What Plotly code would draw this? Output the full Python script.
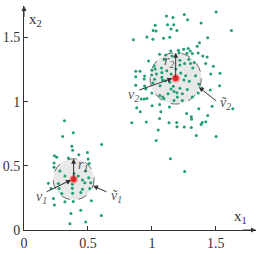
import plotly.graph_objects as go

# cluster 1 points
c1_x = [0.316,0.385,0.302,0.374,0.380,0.238,0.256,0.429,0.496,0.607,0.347,0.235,0.502,0.509,
        0.235,0.281,0.481,0.320,0.424,0.506,0.457,0.191,0.269,0.378,0.475,0.522,0.212,0.274,
        0.378,0.457,0.514,0.295,0.380,0.444,0.230,0.320,0.385,0.527,0.238,0.444,0.367,0.605,
        0.359,0.483,0.391,0.347]
c1_y = [0.852,0.759,0.728,0.652,0.621,0.579,0.567,0.587,0.605,0.667,0.562,0.523,0.554,0.518,
        0.490,0.459,0.459,0.421,0.421,0.408,0.390,0.364,0.362,0.356,0.369,0.369,0.323,0.323,
        0.325,0.318,0.323,0.285,0.287,0.292,0.246,0.221,0.223,0.228,0.195,0.154,0.128,0.113,
        0.048,0.062,0.441,0.375]

# cluster 2 points
c2_x = [1.114,1.165,1.253,1.279,1.502,1.385,1.026,1.122,1.171,1.196,1.622,1.010,1.033,1.150,
        0.855,0.961,1.008,1.091,1.140,1.436,1.372,1.354,
        1.207,1.248,1.284,1.300,1.274,1.316,1.362,1.398,1.432,1.060,1.109,1.157,1.147,1.095,
        0.974,1.219,1.289,1.256,1.302,1.331,1.421,1.481,1.219,1.018,1.075,1.000,0.874,0.907,
        1.078,1.320,1.116,1.186,1.026,1.212,0.940,
        0.874,0.943,0.998,1.021,1.150,1.036,1.078,1.225,1.264,1.341,1.460,1.533,1.083,1.106,
        1.140,1.250,1.292,1.008,0.874,0.943,1.064,1.367,1.393,1.529,1.168,1.150,1.219,1.277,
        1.457,0.953,
        1.173,1.126,1.238,1.000,1.362,1.196,1.199,1.062,1.085,1.316,0.917,0.940,0.961,1.095,
        1.173,1.238,1.002,1.060,1.137,1.367,1.471,1.633,0.881,0.909,1.070,1.271,1.436,1.308,
        1.310,1.060,0.843,0.956,1.134,1.194,1.393,1.385,1.421,1.196,1.253,1.308,1.049,1.347,
        1.502,1.033,1.145,1.256]
c2_y = [1.669,1.656,1.679,1.638,1.700,1.613,1.595,1.600,1.600,1.556,1.556,1.556,1.552,1.567,
        1.482,1.505,1.487,1.495,1.502,1.498,1.459,1.433,
        1.402,1.408,1.415,1.395,1.377,1.375,1.379,1.356,1.348,1.369,1.364,1.356,1.395,1.331,
        1.318,1.323,1.331,1.298,1.298,1.305,1.298,1.277,1.287,1.279,1.262,1.246,1.238,1.238,
        1.228,1.262,1.241,1.254,1.254,1.382,1.177,
        1.195,1.200,1.208,1.175,1.215,1.215,1.190,1.223,1.202,1.202,1.215,1.221,1.169,1.164,
        1.152,1.169,1.159,1.146,1.128,1.123,1.125,1.138,1.105,1.125,1.121,1.100,1.105,1.095,
        1.092,1.100,
        1.079,1.062,1.062,1.067,1.067,1.069,1.036,1.048,1.036,1.036,1.021,1.021,1.025,1.023,
        1.010,1.010,0.969,0.979,0.959,0.946,0.964,0.946,0.952,0.921,0.921,0.908,0.892,0.882,
        0.864,0.869,0.836,0.841,0.836,0.838,0.838,0.823,0.844,0.805,0.802,0.798,0.779,0.736,
        0.728,0.698,0.556,0.456]

centers_x = [0.388, 1.186]
centers_y = [0.395, 1.182]
radii = [0.16, 0.20]

tick_vals = [0, 0.5, 1, 1.5]
tick_text = ["0", "0.5", "1", "1.5"]

green = "#1f9e6e"

fig = go.Figure()
for cx, cy, r in zip(centers_x, centers_y, radii):
    fig.add_shape(type="circle", xref="x", yref="y", x0=cx - r, x1=cx + r, y0=cy - r, y1=cy + r,
                  fillcolor="#e8e8e8", line=dict(color="#666666", width=1, dash="dash"), layer="below")

fig.add_trace(go.Scatter(x=c1_x + c2_x, y=c1_y + c2_y, mode="markers",
                         marker=dict(size=3, color=green), hoverinfo="skip"))
fig.add_trace(go.Scatter(x=centers_x, y=centers_y, mode="markers",
                         marker=dict(size=7, color="#e02828", line=dict(color="rgba(255,140,140,0.9)", width=1.5)),
                         hoverinfo="skip"))

def arrow(x, y, ax, ay):
    fig.add_annotation(x=x, y=y, ax=ax, ay=ay, xref="x", yref="y", axref="x", ayref="y",
                       showarrow=True, arrowhead=2, arrowsize=1, arrowwidth=1, arrowcolor="#333333",
                       standoff=0, startstandoff=0, text="")

def label(x, y, t, size=14):
    fig.add_annotation(x=x, y=y, xref="x", yref="y", text=t, showarrow=False,
                       font=dict(family="Liberation Serif", size=size, color="#555555"))

# r arrows (center -> top of circle)
for cx, cy, r in zip(centers_x, centers_y, radii):
    arrow(cx, cy + r, cx, cy)

# v arrows
arrow(0.367, 0.39, 0.165, 0.292)
arrow(0.540, 0.344, 0.657, 0.292)
arrow(1.160, 1.182, 0.889, 1.087)
arrow(1.367, 1.113, 1.514, 0.998)

label(0.135, 0.25, "<i>v</i><sub><i>1</i></sub>")
label(0.725, 0.26, "<i>ṽ</i><sub><i>1</i></sub>")
label(0.46, 0.50, "<i>r</i><sub><i>1</i></sub>")
label(0.86, 1.05, "<i>v</i><sub><i>2</i></sub>")
label(1.575, 0.985, "<i>ṽ</i><sub><i>2</i></sub>")
label(1.13, 1.31, "<i>r</i><sub><i>2</i></sub>")

# axis arrowheads and titles
fig.add_annotation(x=1.814, y=0, ax=1.70, ay=0, xref="x", yref="y", axref="x", ayref="y",
                   showarrow=True, arrowhead=2, arrowsize=1, arrowwidth=1, arrowcolor="#333333", text="")
fig.add_annotation(x=0, y=1.746, ax=0, ay=1.65, xref="x", yref="y", axref="x", ayref="y",
                   showarrow=True, arrowhead=2, arrowsize=1, arrowwidth=1, arrowcolor="#333333", text="")
fig.add_annotation(x=1.69, y=0.10, xref="x", yref="y", text="x<sub>1</sub>", showarrow=False,
                   font=dict(family="Liberation Serif", size=15, color="#333333"))
fig.add_annotation(x=0.09, y=1.64, xref="x", yref="y", text="x<sub>2</sub>", showarrow=False,
                   font=dict(family="Liberation Serif", size=15, color="#333333"))

axis_common = dict(showgrid=False, zeroline=False, showline=True, linecolor="#333333", linewidth=1,
                   ticks="inside", ticklen=4, tickcolor="#333333", tickvals=tick_vals, ticktext=tick_text,
                   tickfont=dict(family="Liberation Serif", size=14, color="#333333"), fixedrange=True)
fig.update_layout(
    width=259, height=254, margin=dict(l=22, r=3, t=6, b=21),
    paper_bgcolor="white", plot_bgcolor="white", showlegend=False,
    xaxis=dict(range=[0, 1.814], **axis_common),
    yaxis=dict(range=[0, 1.746], **axis_common),
)
fig.write_html("out.html")
